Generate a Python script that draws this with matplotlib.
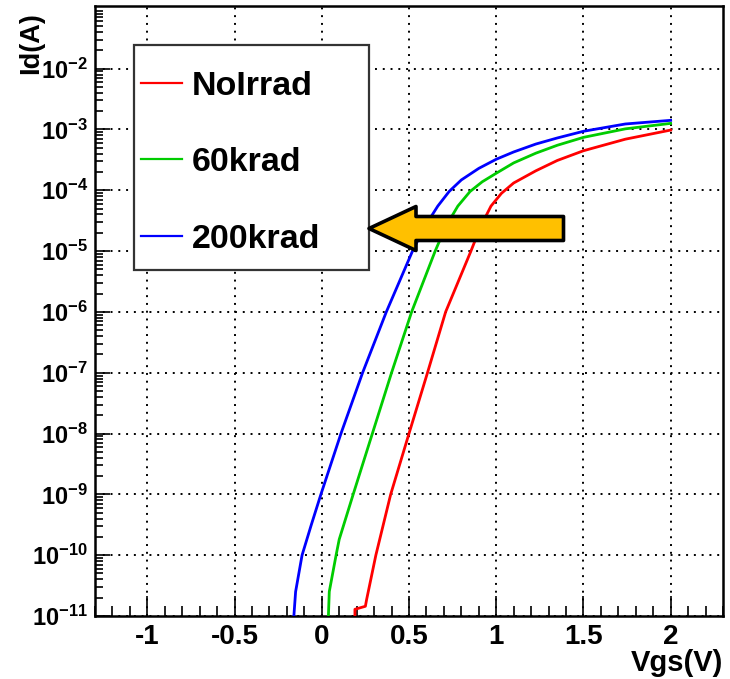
import numpy as np
import matplotlib
matplotlib.use("Agg")
import matplotlib.pyplot as plt
from matplotlib.patches import Polygon, Rectangle
from matplotlib.ticker import FixedLocator, FixedFormatter, NullFormatter

plt.rcParams['font.family'] = ['Liberation Sans', 'DejaVu Sans']
plt.rcParams['font.weight'] = 'bold'
plt.rcParams['mathtext.fontset'] = 'custom'
plt.rcParams['mathtext.rm'] = 'Liberation Sans:bold'
plt.rcParams['mathtext.bf'] = 'Liberation Sans:bold'
plt.rcParams['mathtext.it'] = 'Liberation Sans:bold'
plt.rcParams['mathtext.default'] = 'rm'

# ---- data (Vgs in V, log10 of Id in A) ----
labels = ["NoIrrad", "60krad", "200krad"]
colors = ["#ff0000", "#00cc00", "#0000ff"]

vgs_noirrad = [0.19, 0.19, 0.25, 0.257, 0.31, 0.395, 0.50, 0.606, 0.71, 0.855,
               0.91, 0.97, 1.03, 1.10, 1.227, 1.35, 1.5, 1.74, 2.0]
logid_noirrad = [-11.0, -10.89, -10.84, -10.73, -10.0, -9.0, -8.0, -7.0, -6.0, -5.0,
                 -4.6, -4.26, -4.05, -3.88, -3.68, -3.51, -3.35, -3.16, -3.01]

vgs_60k = [0.038, 0.043, 0.082, 0.10, 0.18, 0.29, 0.40, 0.515, 0.65,
           0.71, 0.78, 0.85, 0.92, 1.0, 1.10, 1.227, 1.35, 1.5, 1.74, 2.0]
logid_60k = [-11.0, -10.6, -10.0, -9.74, -9.0, -8.0, -7.0, -6.0, -5.0,
             -4.6, -4.26, -4.02, -3.86, -3.72, -3.55, -3.39, -3.26, -3.13, -2.99, -2.90]

vgs_200k = [-0.16, -0.15, -0.113, -0.06, -0.005, 0.11, 0.234, 0.37, 0.52,
            0.59, 0.665, 0.73, 0.80, 0.90, 1.0, 1.10, 1.227, 1.35, 1.5, 1.74, 2.0]
logid_200k = [-11.0, -10.6, -10.0, -9.5, -9.0, -8.0, -7.0, -6.0, -5.0,
              -4.6, -4.26, -4.02, -3.83, -3.64, -3.49, -3.37, -3.24, -3.14, -3.03, -2.91, -2.85]

x_major = [-1, -0.5, 0, 0.5, 1, 1.5, 2]
x_labels = ["-1", "-0.5", "0", "0.5", "1", "1.5", "2"]
y_exponents = list(range(-11, -1))

W, H = 730, 679
fig = plt.figure(figsize=(W / 100, H / 100), dpi=100)
ax = fig.add_axes([95 / W, (H - 616) / H, (723 - 95) / W, (616 - 6) / H])

series = [(vgs_noirrad, logid_noirrad), (vgs_60k, logid_60k), (vgs_200k, logid_200k)]
for (v, lg), lab, c in zip(series, labels, colors):
    ax.plot(v, 10.0 ** np.array(lg), color=c, lw=2.0, label=lab, zorder=3,
            solid_joinstyle='round', clip_on=True)

ax.set_yscale('log')
ax.set_xlim(-1.3, 2.3)
ax.set_ylim(1e-11, 10 ** -0.97)

# ticks
ax.xaxis.set_major_locator(FixedLocator(x_major))
ax.xaxis.set_major_formatter(FixedFormatter(x_labels))
ax.xaxis.set_minor_locator(FixedLocator(np.round(np.arange(-1.3, 2.31, 0.1), 2)))
ax.xaxis.set_minor_formatter(NullFormatter())
ymaj = [10.0 ** e for e in y_exponents]
ax.yaxis.set_major_locator(FixedLocator(ymaj))
ax.yaxis.set_major_formatter(FixedFormatter([r'$10^{%d}$' % e for e in y_exponents]))
yminor = [m * 10.0 ** e for e in range(-11, 0) for m in range(2, 10)]
ax.yaxis.set_minor_locator(FixedLocator(yminor))
ax.yaxis.set_minor_formatter(NullFormatter())

ax.tick_params(axis='x', which='major', direction='in', length=14.5, width=1.2,
               labelsize=20, pad=6, top=False)
ax.tick_params(axis='x', which='minor', direction='in', length=7.2, width=1.2, top=False)
ax.tick_params(axis='y', which='major', direction='in', length=11, width=1.2,
               labelsize=17, pad=5, right=False)
ax.tick_params(axis='y', which='minor', direction='in', length=6, width=1.2, right=False)
for lab in ax.get_xticklabels() + ax.get_yticklabels():
    lab.set_fontweight('bold')

for s in ax.spines.values():
    s.set_linewidth(1.8)
    s.set_color('black')

ax.grid(True, which='major', color='black', linestyle=(0, (1, 3)), lw=1.4, zorder=1)
ax.set_axisbelow(True)

ax.set_xlabel("Vgs(V)", fontsize=21, fontweight='bold', ha='right', va='center')
ax.xaxis.set_label_coords(1.0, (616 - 663) / 610)
ax.set_ylabel("Id(A)", fontsize=19.5, fontweight='bold', ha='right', va='center')
ax.yaxis.set_label_coords((31 - 95) / 628, (616 - 12) / 610)

# legend box
rect = Rectangle((134 / W, 1 - 270 / H), (369 - 134) / W, (270 - 45) / H,
                 transform=fig.transFigure, facecolor='white', edgecolor='#333333',
                 lw=1.6, zorder=4)
fig.patches.append(rect)
leg = fig.legend(loc='upper left', bbox_to_anchor=(141 / W, 1 - 71 / H),
                 frameon=False, handlelength=1.2, handletextpad=0.3,
                 labelspacing=1.33, borderpad=0, borderaxespad=0,
                 prop={'weight': 'bold', 'size': 24.5})
for h in leg.get_lines():
    h.set_linewidth(1.6)

# arrow annotation
pts_px = [(369, 228.5), (416, 206.5), (416, 216.5), (563.5, 216.5),
          (563.5, 240.5), (416, 240.5), (416, 250.5)]
pts = [(x / W, 1 - y / H) for x, y in pts_px]
arrow = Polygon(pts, closed=True, transform=fig.transFigure, facecolor='#ffc000',
                edgecolor='black', lw=2.6, joinstyle='round', zorder=6)
fig.patches.append(arrow)

fig.savefig("out.png", dpi=100)
